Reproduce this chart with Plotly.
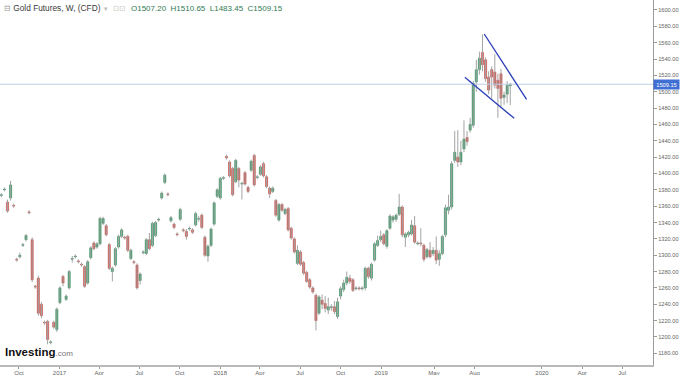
import pandas as pd
import plotly.graph_objects as go

# ---------------- data (weekly candles) ----------------
OPEN = [1372, 1373, 1380, 1365, 1370, 1361, 1295, 1298, 1312, 1319,
        1353, 1319, 1262, 1272, 1240, 1218, 1219, 1193, 1218, 1209,
        1242, 1274, 1246, 1260, 1295, 1298, 1293, 1289, 1286, 1266,
        1297, 1315, 1310, 1314, 1339, 1336, 1313, 1280, 1288, 1310,
        1323, 1322, 1323, 1296, 1292, 1288, 1269, 1303, 1302, 1319,
        1312, 1324, 1343, 1370, 1389, 1375, 1342, 1338, 1326, 1344,
        1331, 1329, 1332, 1331, 1337, 1344, 1349, 1322, 1299, 1312,
        1338, 1372, 1370, 1394, 1421, 1414, 1406, 1390, 1406, 1387,
        1401, 1383, 1404, 1422, 1395, 1399, 1412, 1396, 1382, 1378,
        1367, 1343, 1362, 1351, 1357, 1333, 1320, 1290, 1304, 1291,
        1279, 1270, 1260, 1251, 1229, 1245, 1241, 1233, 1236, 1237,
        1225, 1250, 1258, 1266, 1272, 1270, 1259, 1260, 1259, 1260,
        1284, 1272, 1294, 1312, 1319, 1325, 1311, 1333, 1343, 1344,
        1350, 1359, 1322, 1325, 1326, 1336, 1314, 1315, 1312, 1298,
        1306, 1302, 1306, 1295, 1302, 1325, 1355, 1359, 1416, 1420,
        1414, 1430, 1444, 1453, 1459, 1512, 1527, 1548, 1539, 1518,
        1527, 1524, 1514, 1522, 1493, 1497, 1507.20]
HIGH = [1374, 1376, 1383, 1368, 1391, 1363, 1297, 1303, 1315, 1326,
        1355, 1322, 1264, 1275, 1243, 1220, 1221, 1196, 1220, 1236,
        1262, 1276, 1252, 1282, 1299, 1301, 1295, 1291, 1288, 1294,
        1311, 1317, 1316, 1347, 1347, 1338, 1315, 1286, 1310, 1325,
        1333, 1324, 1325, 1308, 1294, 1290, 1279, 1306, 1321, 1327,
        1341, 1342, 1346, 1378, 1400, 1377, 1348, 1340, 1328, 1358,
        1333, 1332, 1335, 1333, 1353, 1348, 1351, 1324, 1313, 1334,
        1366, 1382, 1396, 1397, 1423, 1416, 1408, 1418, 1408, 1390,
        1403, 1385, 1417, 1424, 1398, 1410, 1414, 1398, 1384, 1384,
        1369, 1364, 1364, 1358, 1359, 1335, 1322, 1312, 1306, 1293,
        1281, 1272, 1262, 1253, 1251, 1252, 1250, 1248, 1240, 1244,
        1248, 1262, 1270, 1280, 1276, 1272, 1262, 1262, 1262, 1286,
        1286, 1291, 1316, 1324, 1330, 1327, 1332, 1350, 1349, 1351,
        1375, 1361, 1328, 1330, 1343, 1348, 1317, 1333, 1314, 1309,
        1316, 1310, 1323, 1306, 1325, 1362, 1374, 1415, 1452, 1453,
        1440, 1465, 1452, 1468, 1513, 1539, 1549, 1570, 1542, 1525,
        1531, 1546, 1522, 1528, 1500, 1513, 1510.65]
LOW = [1369, 1371, 1378, 1352, 1367, 1358, 1292, 1296, 1310, 1317,
       1350, 1267, 1259, 1226, 1223, 1215, 1191, 1191, 1210, 1206,
       1240, 1262, 1244, 1258, 1291, 1296, 1290, 1286, 1260, 1264,
       1295, 1306, 1308, 1312, 1337, 1323, 1282, 1268, 1286, 1308,
       1321, 1319, 1304, 1294, 1289, 1258, 1264, 1301, 1300, 1306,
       1310, 1322, 1341, 1368, 1387, 1372, 1340, 1332, 1323, 1342,
       1328, 1319, 1330, 1326, 1335, 1341, 1332, 1298, 1292, 1310,
       1336, 1370, 1368, 1392, 1417, 1395, 1372, 1388, 1383, 1368,
       1385, 1376, 1402, 1384, 1393, 1397, 1395, 1382, 1370, 1376,
       1347, 1341, 1353, 1349, 1329, 1319, 1302, 1288, 1287, 1276,
       1266, 1259, 1253, 1208, 1227, 1234, 1230, 1228, 1232, 1228,
       1222, 1246, 1255, 1263, 1265, 1255, 1257, 1257, 1257, 1257,
       1271, 1269, 1292, 1310, 1316, 1312, 1308, 1331, 1340, 1341,
       1348, 1322, 1310, 1322, 1324, 1314, 1312, 1311, 1292, 1296,
       1296, 1299, 1289, 1287, 1300, 1322, 1350, 1356, 1413, 1408,
       1410, 1426, 1434, 1450, 1456, 1500, 1521, 1525, 1512, 1497,
       1492, 1504, 1468, 1480, 1484, 1486, 1483.45]
CLOSE = [1371, 1374, 1381, 1354, 1386, 1360, 1294, 1300, 1313, 1324,
         1352, 1270, 1261, 1229, 1226, 1217, 1197, 1194, 1212, 1234,
         1260, 1266, 1250, 1280, 1296, 1299, 1292, 1288, 1262, 1292,
         1309, 1308, 1314, 1345, 1345, 1325, 1284, 1284, 1308, 1323,
         1331, 1321, 1306, 1306, 1291, 1260, 1277, 1304, 1319, 1308,
         1339, 1340, 1344, 1376, 1398, 1374, 1346, 1334, 1325, 1356,
         1330, 1323, 1333, 1328, 1351, 1345, 1334, 1300, 1311, 1332,
         1364, 1380, 1394, 1395, 1419, 1397, 1374, 1416, 1392, 1388,
         1387, 1378, 1415, 1386, 1396, 1408, 1397, 1384, 1375, 1382,
         1349, 1362, 1355, 1356, 1331, 1321, 1304, 1306, 1289, 1278,
         1268, 1261, 1255, 1220, 1249, 1240, 1235, 1237, 1237, 1231,
         1243, 1259, 1266, 1273, 1268, 1257, 1260, 1259, 1260, 1284,
         1274, 1289, 1314, 1318, 1323, 1314, 1330, 1348, 1347, 1349,
         1359, 1325, 1326, 1328, 1337, 1316, 1315, 1314, 1295, 1307,
         1298, 1306, 1294, 1302, 1323, 1358, 1359, 1412, 1426, 1414,
         1426, 1442, 1439, 1460, 1510, 1527, 1541, 1533, 1516, 1502,
         1518, 1508, 1504, 1492, 1496, 1508, 1509.15]
LAST_WEEK = "2019-10-21"

TICK_DATES = ["2016-10-01", "2017-01-01", "2017-04-01", "2017-07-01", "2017-10-01",
              "2018-01-01", "2018-04-01", "2018-07-01", "2018-10-01", "2019-01-01",
              "2019-05-01", "2019-08-01", "2020-01-01", "2020-04-01", "2020-07-01"]
TICK_TEXT = ["Oct", "2017", "Apr", "Jul", "Oct", "2018", "Apr", "Jul", "Oct", "2019",
             "May", "Aug", "2020", "Apr", "Jul"]

UPPER_TREND_X = ["2019-08-23", "2019-11-27"]
UPPER_TREND_Y = [1570.6, 1490.7]
LOWER_TREND_X = ["2019-07-10", "2019-10-30"]
LOWER_TREND_Y = [1517.6, 1467.5]

X_RANGE = ["2016-08-19", "2020-09-09"]
Y_RANGE = [1165.7, 1612.2]

# ---------------- build ----------------
dates = pd.date_range(end=LAST_WEEK, periods=len(OPEN), freq="7D")

GREEN, RED = "#3c9f69", "#d65c54"
GREEN_EDGE, RED_EDGE = "#2f8456", "#bb4740"

wx, wy = [], []
for d, h, l in zip(dates, HIGH, LOW):
    wx += [d, d, None]
    wy += [l, h, None]

body_base = [min(o, c) for o, c in zip(OPEN, CLOSE)]
body_len = [max(abs(c - o), 0.8) for o, c in zip(OPEN, CLOSE)]
body_col = [GREEN if c >= o else RED for o, c in zip(OPEN, CLOSE)]
body_edge = [GREEN_EDGE if c >= o else RED_EDGE for o, c in zip(OPEN, CLOSE)]

fig = go.Figure()
fig.add_trace(go.Scatter(x=wx, y=wy, mode="lines",
                         line=dict(color="#a3a3a3", width=1),
                         hoverinfo="skip", showlegend=False))
fig.add_trace(go.Bar(x=dates, y=body_len, base=body_base,
                     width=5 * 86400000,
                     marker=dict(color=body_col, line=dict(color=body_edge, width=0.5)),
                     hoverinfo="skip", showlegend=False))

# current price line
fig.add_shape(type="line", xref="paper", x0=0, x1=1, yref="y",
              y0=CLOSE[-1], y1=CLOSE[-1], line=dict(color="#bccde9", width=1))
# trend lines
fig.add_shape(type="line", xref="x", yref="y",
              x0=UPPER_TREND_X[0], x1=UPPER_TREND_X[1],
              y0=UPPER_TREND_Y[0], y1=UPPER_TREND_Y[1],
              line=dict(color="#2c3fb8", width=1.3))
fig.add_shape(type="line", xref="x", yref="y",
              x0=LOWER_TREND_X[0], x1=LOWER_TREND_X[1],
              y0=LOWER_TREND_Y[0], y1=LOWER_TREND_Y[1],
              line=dict(color="#2c3fb8", width=1.3))

# price tag on the axis
fig.add_annotation(xref="paper", x=1, xanchor="left", xshift=0,
                   yref="y", y=CLOSE[-1], yanchor="middle",
                   text=f"{CLOSE[-1]:.2f}", showarrow=False,
                   width=25, height=9, align="center",
                   bgcolor="#3f6fd3", borderpad=0,
                   font=dict(family="Liberation Sans", size=5.7, color="white"))

NB = "\u00a0"
# header
fig.add_annotation(xref="paper", yref="paper", x=0.003, y=0.978,
                   xanchor="left", yanchor="middle", showarrow=False,
                   text="<span style='color:#999'>⊟</span> Gold Futures, W, (CFD) "
                        "<span style='color:#bbb;font-size:6px'>▼</span>",
                   font=dict(family="Liberation Sans", size=8.3, color="#3a3a3a"))
fig.add_annotation(xref="paper", yref="paper", x=111 / 653, y=0.978,
                   xanchor="left", yanchor="middle", showarrow=False,
                   text="⊡⊡",
                   font=dict(family="DejaVu Sans", size=7.5, color="#c8c8c8"))
fig.add_annotation(xref="paper", yref="paper", x=129 / 653, y=0.978,
                   xanchor="left", yanchor="middle", showarrow=False,
                   text=(f"O{OPEN[-1]:.2f}{NB}{NB}H{HIGH[-1]:.2f}{NB}{NB}"
                         f"L{LOW[-1]:.2f}{NB}{NB}C{CLOSE[-1]:.2f}"),
                   font=dict(family="Liberation Sans", size=8, color="#2f7a52"))

# logo
fig.add_annotation(xref="paper", yref="paper", x=3 / 653, y=1 - 352 / 365,
                   xanchor="left", yanchor="middle", showarrow=False,
                   text="<b>Investing</b><span style='font-size:8px;color:#777'>.com</span>",
                   font=dict(family="Liberation Sans", size=11.5, color="#111"))

fig.update_layout(
    width=680, height=375,
    margin=dict(l=0, r=27, t=0, b=10, autoexpand=False),
    paper_bgcolor="white", plot_bgcolor="white",
    showlegend=False, bargap=0,
    xaxis=dict(type="date", range=X_RANGE, tickvals=TICK_DATES, ticktext=TICK_TEXT,
               automargin=False,
               showgrid=False, zeroline=False, showline=True,
               linecolor="#b9b9b9", linewidth=2, ticks="outside", ticklen=2,
               ticklabelstandoff=-1,
               tickcolor="#999", tickfont=dict(family="Liberation Sans", size=6, color="#666")),
    yaxis=dict(range=Y_RANGE, side="right", dtick=20, tick0=1180, tickformat=".2f",
               automargin=False,
               showgrid=False, zeroline=False, showline=True,
               linecolor="#9a9a9a", linewidth=1, ticks="outside", ticklen=3,
               tickcolor="#999", tickfont=dict(family="Liberation Sans", size=5.7, color="#666")),
)

fig.write_html("out.html",
               config={"displayModeBar": False, "staticPlot": True},
               post_script="document.body.style.margin='0';"
                           "document.body.style.overflow='hidden';")
